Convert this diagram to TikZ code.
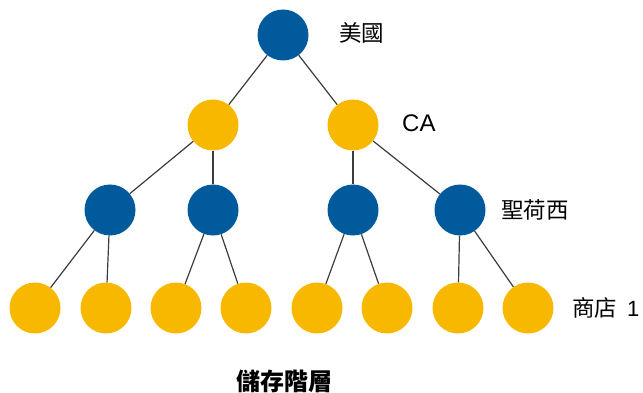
\documentclass[tikz,border=0pt]{standalone}
\usepackage{fontspec}
\setmainfont{Liberation Sans}
\newfontfamily\cjk{Noto Sans CJK TC}
\definecolor{nblue}{RGB}{0,90,156}
\definecolor{nyellow}{RGB}{249,184,0}
\definecolor{edgec}{RGB}{60,60,60}
\begin{document}
\begin{tikzpicture}[x=1pt,y=-1pt,
  bnode/.style={circle,fill=nblue,minimum size=51pt,inner sep=0pt},
  ynode/.style={circle,fill=nyellow,minimum size=51pt,inner sep=0pt},
  link/.style={draw=edgec,line width=1.2pt},
  lbl/.style={anchor=west,font=\fontsize{22.5}{24}\selectfont,inner sep=0pt}]
\useasboundingbox (0,0) rectangle (643,393);
\node[bnode] (r) at (283,35) {};
\node[ynode] (a1) at (213,125) {};
\node[ynode] (a2) at (353,125) {};
\node[bnode] (b1) at (110,210) {};
\node[bnode] (b2) at (213,210) {};
\node[bnode] (b3) at (353,210) {};
\node[bnode] (b4) at (460,210) {};
\node[ynode] (c1) at (35,308) {};
\node[ynode] (c2) at (106,308) {};
\node[ynode] (c3) at (176,308) {};
\node[ynode] (c4) at (246,308) {};
\node[ynode] (c5) at (317,308) {};
\node[ynode] (c6) at (387,308) {};
\node[ynode] (c7) at (458,308) {};
\node[ynode] (c8) at (528,308) {};
\draw[link] (r) -- (a1);
\draw[link] (r) -- (a2);
\draw[link] (a1) -- (b1);
\draw[link] (a1) -- (b2);
\draw[link] (a2) -- (b3);
\draw[link] (a2) -- (b4);
\draw[link] (b1) -- (c1);
\draw[link] (b1) -- (c2);
\draw[link] (b2) -- (c3);
\draw[link] (b2) -- (c4);
\draw[link] (b3) -- (c5);
\draw[link] (b3) -- (c6);
\draw[link] (b4) -- (c7);
\draw[link] (b4) -- (c8);
\node[lbl] (l1) at (339,33) {\cjk 美國};
\node[lbl] (l2) at (402,123) {\fontsize{24}{26}\selectfont CA};
\node[lbl] (l3) at (501,210) {\cjk 聖荷西};
\node[lbl] (l4) at (572,308) {\cjk 商店\hspace{10pt}\rmfamily\fontsize{22}{24}\selectfont 1};
\node[font=\fontsize{24}{26}\selectfont\cjk\bfseries,inner sep=0pt] (t) at (284,381) {儲存階層};
\end{tikzpicture}
\end{document}
